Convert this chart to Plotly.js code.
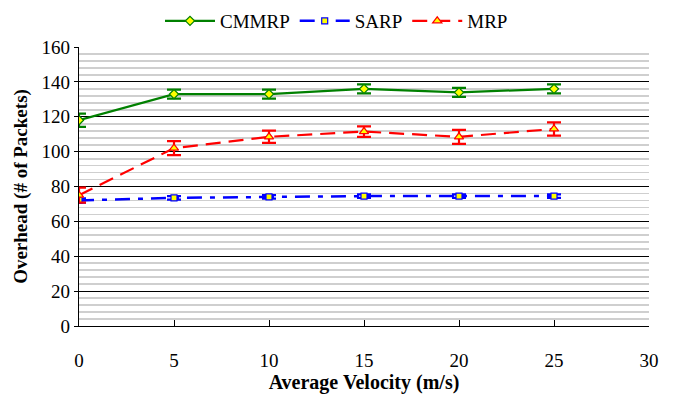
<!DOCTYPE html>
<html><head><meta charset="utf-8">
<script src="https://cdn.plot.ly/plotly-3.0.1.min.js"></script>
<style>
body{margin:0;padding:0;background:#fff}
#chart{width:673px;height:397px}
#chart svg text{font-family:"Liberation Serif","Times New Roman",serif !important}
</style>
</head><body><div id="chart"></div>
<script>
const velocity = [0, 5, 10, 15, 20, 25];
const cmmrp = [118, 133, 133, 136, 134, 136];
const cmmrpErr = [3.8, 2.6, 2.6, 2.6, 2.6, 2.6];
const sarp = [72, 73.5, 74, 74.5, 74.5, 74.5];
const sarpErr = [1.2, 1, 1, 1, 1, 1];
const mrp = [75, 102, 108.5, 111.5, 108.5, 113];
const mrpErr = [4.3, 4, 3.5, 3, 4, 3.8];
const xTicks = [0, 5, 10, 15, 20, 25, 30];

const font = "Liberation Serif";
const traces = [
  {x: velocity, y: cmmrp, name: 'CMMRP', type: 'scatter', mode: 'lines+markers',
   line: {color: '#008000', width: 2.2},
   marker: {symbol: 'diamond', size: 7, color: '#ffff00', line: {color: '#008000', width: 1.2}},
   error_y: {type: 'data', array: cmmrpErr, color: '#008000', thickness: 2.2, width: 7}},
  {x: velocity, y: sarp, name: 'SARP', type: 'scatter', mode: 'lines+markers',
   line: {color: '#0000ff', width: 2.5, dash: '15px,8px,5px,8px'},
   marker: {symbol: 'square', size: 6, color: '#ffff00', line: {color: '#0000ff', width: 1.2}},
   error_y: {type: 'data', array: sarpErr, color: '#0000ff', thickness: 2.2, width: 7}},
  {x: velocity, y: mrp, name: 'MRP', type: 'scatter', mode: 'lines+markers',
   line: {color: '#ff0000', width: 2.2, dash: '15px,8px'},
   marker: {symbol: 'triangle-up', size: 8, color: '#ffff00', line: {color: '#ff0000', width: 1.2}},
   error_y: {type: 'data', array: mrpErr, color: '#ff0000', thickness: 2.2, width: 7}}
];

const layout = {
  width: 673, height: 397,
  margin: {l: 79, r: 24, t: 47, b: 71},
  paper_bgcolor: '#ffffff', plot_bgcolor: '#ffffff',
  font: {family: font, size: 18, color: '#000'},
  showlegend: true,
  legend: {orientation: 'h', x: 0.5, xref: 'container', xanchor: 'center',
           y: 0.995, yref: 'container', yanchor: 'top',
           font: {family: font, size: 19}, itemwidth: 50, tracegroupgap: 0},
  xaxis: {
    range: [0, 30], tickvals: xTicks, ticktext: xTicks.map(String),
    showgrid: false, zeroline: false, showline: true, linecolor: '#000', linewidth: 1.2,
    ticks: 'inside', ticklen: 6, tickcolor: '#000', tickwidth: 1,
    ticklabelstandoff: 17,
    tickfont: {family: font, size: 19},
    title: {text: '<b>Average Velocity (m/s)</b>', font: {family: font, size: 20}, standoff: 0}
  },
  yaxis: {
    range: [0, 160], dtick: 20, tick0: 0,
    showgrid: true, gridcolor: '#000', gridwidth: 1,
    minor: {dtick: 4, showgrid: true, gridcolor: '#cfcfcf', gridwidth: 1.8},
    zeroline: false, showline: true, linecolor: '#000', linewidth: 1.2,
    ticks: 'outside', ticklen: 4, tickcolor: '#000',
    tickfont: {family: font, size: 19},
    title: {text: '<b>Overhead (# of Packets)</b>', font: {family: font, size: 19}, standoff: 8}
  }
};
Plotly.newPlot('chart', traces, layout, {staticPlot: true});
</script></body></html>
